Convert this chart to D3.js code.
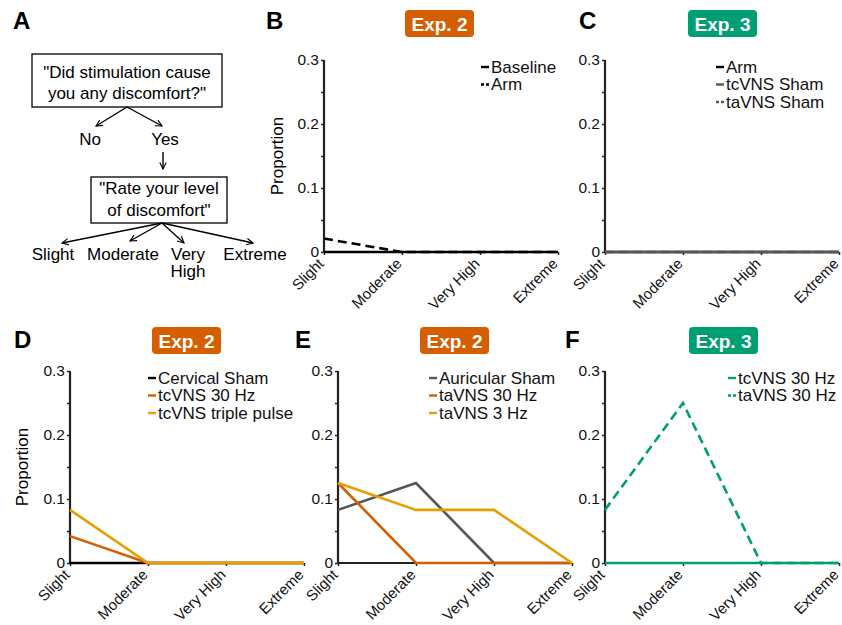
<!DOCTYPE html>
<html lang="en">
<head>
  <meta charset="UTF-8">
  <title>Discomfort ratings</title>
  <style>
    body { margin: 0; background: #fff; }
    svg { font-family: "Liberation Sans", Arial, sans-serif; }
    .tick text { font-size: 15.5px; fill: #111; }
    .legend text { font-size: 17px; fill: #111; }
  </style>
</head>
<body>
  <svg id="fig" width="842" height="625"></svg>

  <script src="https://d3js.org/d3.v7.min.js"></script>
  <script>
    // categories and tick values
    const categories = ["Slight", "Moderate", "Very High", "Extreme"];
    const yTickValues = [0, 0.05, 0.1, 0.15, 0.2, 0.25, 0.3];

    // B - Exp. 2
    const bBaseline = [0, 0, 0, 0];
    const bArm = [0.021, 0, 0, 0];
    // C - Exp. 3
    const cArm = [0, 0, 0, 0];
    const cTcvnsSham = [0, 0, 0, 0];
    const cTavnsSham = [0, 0, 0, 0];
    // D - Exp. 2
    const dCervicalSham = [0, 0, 0, 0];
    const dTcvns30 = [0.042, 0, 0, 0];
    const dTriplePulse = [0.083, 0, 0, 0];
    // E - Exp. 2
    const eAuricularSham = [0.083, 0.125, 0, 0];
    const eTavns30 = [0.125, 0, 0, 0];
    const eTavns3 = [0.125, 0.083, 0.083, 0];
    // F - Exp. 3
    const fTcvns30 = [0, 0, 0, 0];
    const fTavns30 = [0.083, 0.25, 0, 0];

    const ORANGE = "#d55e00", YELLOW = "#e69f00", GREEN = "#009e73", GRAY = "#555555";

    const svg = d3.select("#fig");

    // arrowhead for the flowchart
    svg.append("defs").append("marker")
      .attr("id", "arrow")
      .attr("viewBox", "0 0 10 10")
      .attr("refX", 9).attr("refY", 5)
      .attr("markerWidth", 8).attr("markerHeight", 8)
      .attr("markerUnits", "userSpaceOnUse")
      .attr("orient", "auto")
      .append("path")
      .attr("d", "M1,1 L9,5 L1,9")
      .attr("fill", "none")
      .attr("stroke", "#000")
      .attr("stroke-width", 1.4);

    // panel letters
    const letters = [["A", 13, 29], ["B", 266, 29], ["C", 579, 29], ["D", 14, 348], ["E", 295, 348], ["F", 565, 348]];
    svg.selectAll(".letter").data(letters).enter().append("text")
      .attr("class", "letter")
      .attr("x", d => d[1]).attr("y", d => d[2])
      .style("font-size", "24px").style("font-weight", "bold")
      .text(d => d[0]);

    // ---- Panel A: flowchart ----
    const A = svg.append("g").style("font-size", "17px");
    A.append("rect").attr("x", 32).attr("y", 54).attr("width", 190).attr("height", 53)
      .attr("fill", "none").attr("stroke", "#000").attr("stroke-width", 1.3);
    A.append("text").attr("x", 127).attr("y", 78).attr("text-anchor", "middle").text("\"Did stimulation cause");
    A.append("text").attr("x", 127).attr("y", 99).attr("text-anchor", "middle").text("you any discomfort?\"");

    A.append("rect").attr("x", 91).attr("y", 177).attr("width", 136).attr("height", 46)
      .attr("fill", "none").attr("stroke", "#000").attr("stroke-width", 1.3);
    A.append("text").attr("x", 159).attr("y", 194).attr("text-anchor", "middle").text("\"Rate your level");
    A.append("text").attr("x", 159).attr("y", 216).attr("text-anchor", "middle").text("of discomfort\"");

    const arrows = [
      [127, 107, 96, 126], [127, 107, 162, 126],
      [163, 152, 163, 169],
      [162, 223, 62, 243], [162, 223, 130, 241], [162, 223, 184, 243], [162, 223, 253, 243]
    ];
    A.selectAll(".arr").data(arrows).enter().append("line")
      .attr("x1", d => d[0]).attr("y1", d => d[1]).attr("x2", d => d[2]).attr("y2", d => d[3])
      .attr("stroke", "#000").attr("stroke-width", 1.4)
      .attr("marker-end", "url(#arrow)");

    const flowLabels = [["No", 90, 145], ["Yes", 165, 145], ["Slight", 53, 260], ["Moderate", 123, 260],
                        ["Very", 188, 260], ["High", 188, 277], ["Extreme", 255, 260]];
    A.selectAll(".fl").data(flowLabels).enter().append("text")
      .attr("x", d => d[1]).attr("y", d => d[2]).attr("text-anchor", "middle").text(d => d[0]);

    // ---- line panels ----
    const panels = [
      { x0: 324, top: 60, exp: "Exp. 2", badgeX: 405, badgeY: 10, ylabel: 283, legX: 157,
        series: [
          { name: "Baseline", values: bBaseline, color: "#000", dash: null },
          { name: "Arm", values: bArm, color: "#000", dash: "9,5" }
        ] },
      { x0: 605, top: 60, exp: "Exp. 3", badgeX: 688, badgeY: 10, ylabel: null, legX: 111,
        series: [
          { name: "Arm", values: cArm, color: "#000", dash: null },
          { name: "tcVNS Sham", values: cTcvnsSham, color: GRAY, dash: null },
          { name: "taVNS Sham", values: cTavnsSham, color: GRAY, dash: "9,5" }
        ] },
      { x0: 70, top: 371, exp: "Exp. 2", badgeX: 152, badgeY: 327, ylabel: 28, legX: 78,
        series: [
          { name: "Cervical Sham", values: dCervicalSham, color: "#000", dash: null },
          { name: "tcVNS 30 Hz", values: dTcvns30, color: ORANGE, dash: null },
          { name: "tcVNS triple pulse", values: dTriplePulse, color: YELLOW, dash: null }
        ] },
      { x0: 338, top: 371, exp: "Exp. 2", badgeX: 420, badgeY: 327, ylabel: null, legX: 91,
        series: [
          { name: "Auricular Sham", values: eAuricularSham, color: GRAY, dash: null },
          { name: "taVNS 30 Hz", values: eTavns30, color: ORANGE, dash: null },
          { name: "taVNS 3 Hz", values: eTavns3, color: YELLOW, dash: null }
        ] },
      { x0: 605, top: 371, exp: "Exp. 3", badgeX: 689, badgeY: 327, ylabel: null, legX: 123,
        series: [
          { name: "tcVNS 30 Hz", values: fTcvns30, color: GREEN, dash: null },
          { name: "taVNS 30 Hz", values: fTavns30, color: GREEN, dash: "9,5" }
        ] }
    ];

    const W = 234, H = 192;
    const x = d3.scalePoint().domain(categories).range([0, W]);
    const y = d3.scaleLinear().domain([0, 0.3]).range([H, 0]);

    panels.forEach(p => {
      const g = svg.append("g").attr("transform", `translate(${p.x0},${p.top})`);

      // badge
      const badgeColor = p.exp === "Exp. 2" ? ORANGE : GREEN;
      svg.append("rect").attr("x", p.badgeX).attr("y", p.badgeY).attr("width", 69).attr("height", 27)
        .attr("rx", 4).attr("fill", badgeColor);
      svg.append("text").attr("x", p.badgeX + 34.5).attr("y", p.badgeY + 20.5)
        .attr("text-anchor", "middle").attr("fill", "#fff")
        .style("font-size", "19px").style("font-weight", "bold").text(p.exp);

      // y axis
      const yAxis = g.append("g").call(d3.axisLeft(y).tickValues(yTickValues).tickSize(3)
        .tickFormat(d => (Math.round(d * 100) % 10 === 0 ? (d === 0 ? "0" : d3.format(".1f")(d)) : "")));
      yAxis.select(".domain").attr("stroke", "#222").attr("stroke-width", 2.2).attr("d", `M0,${H}V0`);
      yAxis.selectAll(".tick line").attr("stroke", "#222").attr("stroke-width", 1.5);
      yAxis.selectAll(".tick text").attr("x", -5);

      // x axis
      const xAxis = g.append("g").attr("transform", `translate(0,${H})`)
        .call(d3.axisBottom(x).tickSize(3).tickFormat(""));
      xAxis.select(".domain").attr("stroke", "#222").attr("stroke-width", 2.2).attr("d", `M0,0H${W}`);
      xAxis.selectAll(".tick line").attr("stroke", "#222").attr("stroke-width", 1.5);

      g.selectAll(".xlab").data(categories).enter().append("text")
        .attr("transform", d => `translate(${x(d) - 3},${H + 9}) rotate(-45)`)
        .attr("text-anchor", "end")
        .attr("dy", "0.35em")
        .style("font-size", "15px")
        .style("fill", "#111")
        .text(d => d);

      if (p.ylabel !== null) {
        svg.append("text")
          .attr("transform", `translate(${p.ylabel},${p.top + H / 2}) rotate(-90)`)
          .attr("text-anchor", "middle")
          .style("font-size", "17px")
          .text("Proportion");
      }

      // lines
      const line = d3.line().x((d, i) => x(categories[i])).y(d => y(d));
      g.selectAll(".series").data(p.series).enter().append("path")
        .attr("d", d => line(d.values))
        .attr("fill", "none")
        .attr("stroke", d => d.color)
        .attr("stroke-width", 2.6)
        .attr("stroke-dasharray", d => d.dash);

      // legend
      const leg = g.append("g").attr("class", "legend").attr("transform", `translate(${p.legX},7)`);
      const row = leg.selectAll("g").data(p.series).enter().append("g")
        .attr("transform", (d, i) => `translate(0,${i * 17.5})`);
      row.append("line").attr("x1", 0).attr("x2", 8).attr("y1", 0).attr("y2", 0)
        .attr("stroke", d => d.color).attr("stroke-width", 2.4)
        .attr("stroke-dasharray", d => d.dash ? "3,2" : null);
      row.append("text").attr("x", 10).attr("dy", "0.35em").text(d => d.name);
    });
  </script>
</body>
</html>
